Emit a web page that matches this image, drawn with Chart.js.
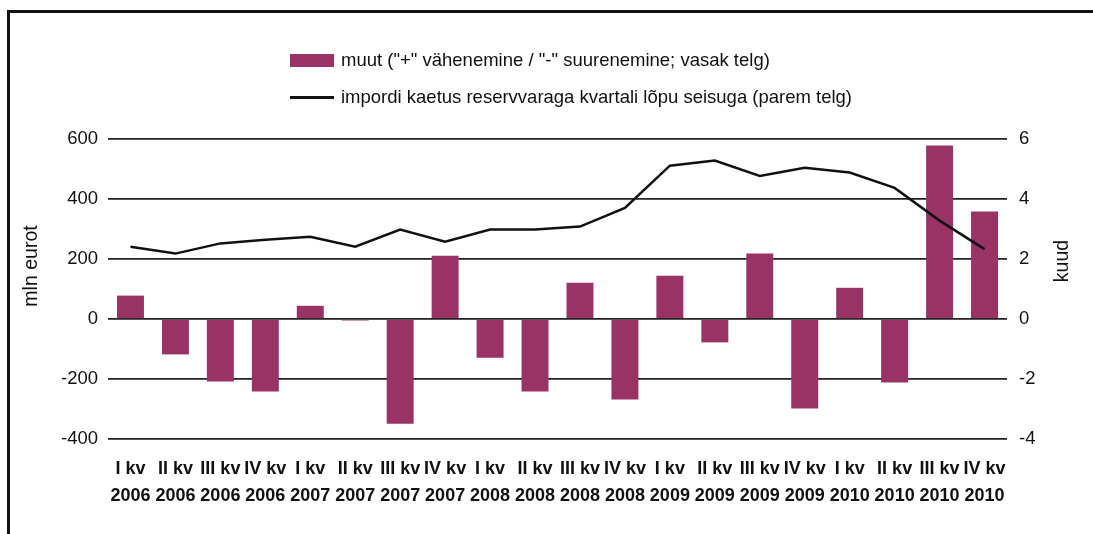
<!DOCTYPE html>
<html>
<head>
<meta charset="utf-8">
<script src="https://cdn.jsdelivr.net/npm/chart.js@4"></script>
<style>
  html, body { margin: 0; padding: 0; background: #fff; }
  #wrap { position: relative; width: 1093px; height: 534px; overflow: hidden; font-family: "Liberation Sans", Arial, sans-serif; }
  #frame { position: absolute; left: 7px; top: 10px; right: -5px; bottom: -5px; border-top: 3px solid #111; border-left: 3px solid #111; }
  canvas { position: absolute; left: 0; top: 0; }
  .leg { position: absolute; left: 290px; height: 20px; display: flex; align-items: center; font-size: 18.5px; color: #111; white-space: nowrap; }
  .leg .box { width: 44px; height: 13px; background: #993366; margin-right: 7px; }
  .leg .ln { width: 44px; height: 3px; background: #111; margin-right: 7px; }
</style>
</head>
<body>
<div id="wrap">
  <div id="frame"></div>
  <canvas id="c" width="1093" height="534"></canvas>
  <div class="leg" style="top:50px"><div class="box"></div><span id="l1"></span></div>
  <div class="leg" style="top:87px"><div class="ln"></div><span id="l2"></span></div>
</div>
<script>
const quarters = ['I kv', 'II kv', 'III kv', 'IV kv'];
const years = ['2006', '2007', '2008', '2009', '2010'];
const labels = [];
years.forEach(y => quarters.forEach(q => labels.push([q, y])));

const barName = 'muut ("+" vähenemine / "-" suurenemine; vasak telg)';
const lineName = 'impordi kaetus reservvaraga kvartali lõpu seisuga (parem telg)';

const barValues = [78, -118, -208, -242, 44, -5, -349, 211, -129, -242,
                   121, -268, 144, -78, 218, -298, 104, -212, 578, 358];
const lineValues = [2.41, 2.18, 2.52, 2.64, 2.74, 2.41, 2.98, 2.58, 2.98, 2.98,
                    3.08, 3.70, 5.11, 5.28, 4.77, 5.04, 4.88, 4.37, 3.28, 2.33];

const leftTitle = 'mln eurot';
const rightTitle = 'kuud';

document.getElementById('l1').textContent = barName;
document.getElementById('l2').textContent = lineName;

const font = '"Liberation Sans", Arial, sans-serif';

// axis titles both read bottom-to-top, drawn by hand
const titles = {
  id: 'titles',
  afterDraw(chart) {
    const ctx = chart.ctx;
    ctx.save();
    ctx.fillStyle = '#111';
    ctx.font = '19.5px ' + font;
    ctx.textAlign = 'center';
    ctx.textBaseline = 'middle';
    [[leftTitle, 32, 266], [rightTitle, 1063, 261]].forEach(([t, x, y]) => {
      ctx.save();
      ctx.translate(x, y);
      ctx.rotate(-Math.PI / 2);
      ctx.fillText(t, 0, 0);
      ctx.restore();
    });
    ctx.restore();
  }
};

new Chart(document.getElementById('c'), {
  data: {
    labels: labels,
    datasets: [{
      type: 'line',
      label: lineName,
      data: lineValues,
      yAxisID: 'y1',
      borderColor: '#111',
      borderWidth: 2.5,
      pointRadius: 0,
      tension: 0,
      order: 0
    }, {
      type: 'bar',
      label: barName,
      data: barValues,
      yAxisID: 'y',
      backgroundColor: '#993366',
      barPercentage: 0.6,
      categoryPercentage: 1,
      order: 1
    }]
  },
  options: {
    responsive: false,
    animation: false,
    layout: { padding: { top: 139, left: 0, right: 0, bottom: 0 } },
    plugins: { legend: { display: false }, tooltip: { enabled: false } },
    scales: {
      x: {
        grid: { display: false },
        border: { display: false },
        afterFit: s => { s.height = 95; },
        ticks: {
          autoSkip: false, maxRotation: 0, minRotation: 0, padding: 9,
          color: '#111',
          font: { family: font, size: 18, weight: 'bold', lineHeight: 1.5 }
        }
      },
      y: {
        position: 'left',
        min: -400, max: 600,
        afterFit: s => { s.width = 108; },
        grid: { color: '#222', lineWidth: 1.8, drawTicks: false },
        border: { display: false },
        ticks: { stepSize: 200, padding: 10, color: '#111', font: { family: font, size: 18.5 } }
      },
      y1: {
        position: 'right',
        min: -4, max: 6,
        afterFit: s => { s.width = 86; },
        grid: { display: false, drawTicks: false },
        border: { display: false },
        ticks: { stepSize: 2, padding: 12, color: '#111', font: { family: font, size: 18.5 } }
      }
    }
  },
  plugins: [titles]
});
</script>
</body>
</html>
